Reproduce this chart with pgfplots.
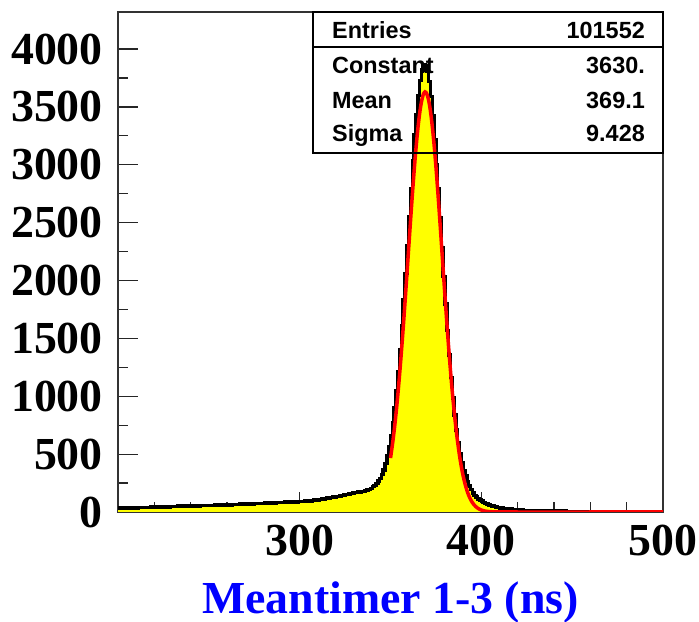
\documentclass[border=0pt]{standalone}
\usepackage{pgfplots}
\pgfplotsset{compat=1.18}
\usepackage{pgfplotstable}
\usepackage{fontspec}
\setmainfont{Liberation Serif}
\newfontfamily\statfont{Liberation Sans}
\definecolor{rootyellow}{RGB}{255,255,0}
\definecolor{rootblue}{RGB}{0,0,255}

\pgfplotstableread{
x y
200 35
201 33
202 36
203 34
204 37
205 35
206 38
207 36
208 37
209 39
210 36
211 38
212 40
213 37
214 39
215 41
216 38
217 40
218 42
219 41
220 42
221 44
222 41
223 45
224 43
225 46
226 44
227 47
228 45
229 48
230 46
231 49
232 47
233 50
234 48
235 49
236 51
237 50
238 52
239 51
240 52
241 54
242 51
243 55
244 53
245 56
246 54
247 55
248 57
249 55
250 58
251 56
252 57
253 59
254 58
255 60
256 57
257 59
258 61
259 60
260 60
261 62
262 61
263 64
264 63
265 66
266 64
267 67
268 66
269 69
270 68
271 70
272 69
273 72
274 71
275 73
276 72
277 74
278 73
279 75
280 75
281 77
282 76
283 79
284 77
285 80
286 79
287 81
288 82
289 81
290 84
291 83
292 85
293 84
294 86
295 87
296 86
297 88
298 87
299 89
300 89
301 92
302 91
303 95
304 96
305 98
306 97
307 101
308 103
309 104
310 105
311 108
312 111
313 113
314 117
315 119
316 122
317 125
318 128
319 130
320 132
321 136
322 139
323 143
324 146
325 150
326 153
327 157
328 161
329 164
330 167
331 169
332 172
333 171
334 175
335 178
336 184
337 189
338 195
339 203
340 219
341 230
342 246
343 266
344 291
345 323
346 365
347 418
348 484
349 563
350 658
351 770
352 900
353 1049
354 1216
355 1406
356 1611
357 1830
358 2062
359 2304
360 2550
361 2795
362 3033
363 3259
364 3430
365 3600
366 3730
367 3820
368 3860
369 3855
370 3810
371 3720
372 3590
373 3420
374 3220
375 3000
376 2790
377 2539
378 2285
379 2036
380 1796
381 1566
382 1356
383 1162
384 986
385 837
386 707
387 594
388 499
389 424
390 360
391 309
392 264
393 225
394 193
395 166
396 144
397 128
398 114
399 104
400 94
401 84
402 75
403 67
404 61
405 56
406 51
407 47
408 43
409 39
410 35
411 33
412 31
413 29
414 28
415 26
416 25
417 23
418 21
419 20
420 18
421 17
422 16
423 15
424 14
425 13
426 12
427 12
428 11
429 11
430 10
431 10
432 9
433 9
434 8
435 8
436 8
437 8
438 7
439 7
440 7
441 7
442 6
443 7
444 6
445 6
446 7
447 6
448 6
449 6
450 6
451 6
452 5
453 6
454 5
455 5
456 6
457 5
458 5
459 5
460 5
461 5
462 4
463 5
464 5
465 4
466 4
467 5
468 4
469 4
470 4
471 4
472 4
473 4
474 3
475 4
476 4
477 4
478 4
479 3
480 4
481 4
482 3
483 4
484 3
485 3
486 4
487 3
488 3
489 3
490 3
491 3
492 3
493 2
494 3
495 3
496 3
497 2
498 3
499 3
500 3
}\histdata

\pgfplotstableread{
x y
350 466
351 575
352 701
353 845
354 1007
355 1187
356 1383
357 1593
358 1815
359 2045
360 2278
361 2510
362 2734
363 2945
364 3136
365 3303
366 3439
367 3541
368 3605
369 3630
370 3613
371 3557
372 3462
373 3332
374 3172
375 2985
376 2777
377 2555
378 2325
379 2092
380 1861
381 1637
382 1423
383 1224
384 1041
385 876
386 728
387 599
388 487
389 391
390 311
391 245
392 190
393 146
394 111
395 83
396 62
397 46
398 33
399 24
400 17
402 8
404 4
406 2
410 0.3
420 0
460 0
500 0
}\fitdata

\begin{document}
\begin{tikzpicture}
\path[use as bounding box] (0,0) rectangle (699bp,622bp);
\begin{axis}[
  at={(118bp,110bp)}, anchor=south west,
  width=545bp, height=500bp, scale only axis,
  xmin=200, xmax=500, ymin=0, ymax=4320,
  xtick={200,300,400,500}, xticklabels={,300,400,500},
  ytick={0,500,...,4000},
  minor x tick num=4, minor y tick num=1,
  tick align=inside,
  xtick pos=left, ytick pos=left,
  major tick length=20bp, minor tick length=10bp,
  every tick/.style={black!85, line width=1.2bp},
  axis line style={black!80, line width=1.5bp},
  /pgf/number format/assume math mode=true,
  /pgf/number format/1000 sep={},
  ticklabel style={font=\fontsize{46}{46}\selectfont\bfseries},
  xticklabel style={inner sep=0pt, anchor=north, yshift=-13bp},
  yticklabel style={inner sep=0pt, anchor=east, xshift=-15bp},
  xlabel={Meantimer 1-3 (ns)},
  xlabel style={at={(axis description cs:0.5,0)}, anchor=base, yshift=-101bp, inner sep=0pt,
    font=\fontsize{46}{46}\selectfont\bfseries, text=rootblue},
]
\addplot[const plot mark left, fill=rootyellow, draw=none] table[x=x, y=y] {\histdata} \closedcycle;
\addplot[const plot mark left, draw=black, line width=3.5bp] table[x=x, y=y] {\histdata};
\addplot[smooth, draw=red, line width=3.5bp] table[x=x, y=y] {\fitdata};
\end{axis}
\draw[black, line width=1.5bp] (313bp,469bp) rectangle (663bp,610bp);
\draw[black, line width=1.5bp] (313bp,575bp) -- (663bp,575bp);
\begin{scope}[every node/.style={inner sep=0pt, font=\statfont\bfseries\fontsize{23.5}{23.5}\selectfont}]
\node[anchor=base west] at (332bp,583bp) {Entries};
\node[anchor=base east] at (645bp,583bp) {101552};
\node[anchor=base west] at (332bp,548bp) {Constant};
\node[anchor=base east] at (645bp,548bp) {3630.};
\node[anchor=base west] at (332bp,513bp) {Mean};
\node[anchor=base east] at (645bp,513bp) {369.1};
\node[anchor=base west] at (332bp,480bp) {Sigma};
\node[anchor=base east] at (645bp,480bp) {9.428};
\end{scope}
\end{tikzpicture}
\end{document}
